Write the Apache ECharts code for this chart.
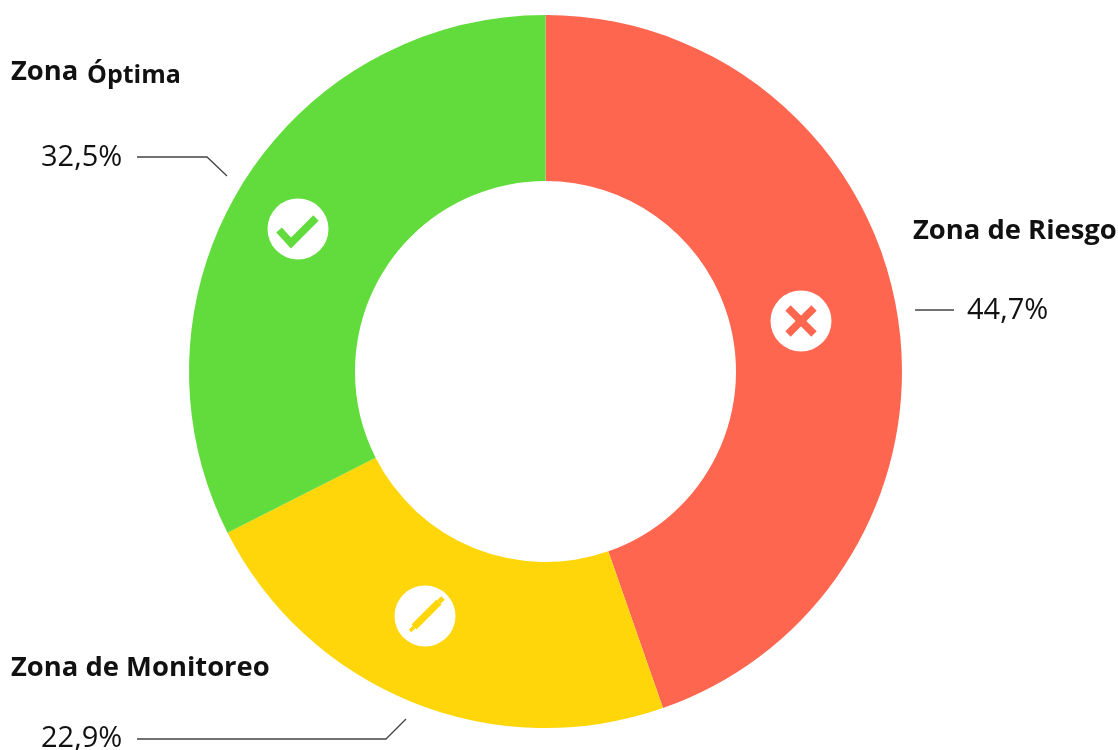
<!DOCTYPE html>
<html>
<head>
<meta charset="utf-8">
<style>html,body{margin:0;padding:0;background:#fff}#chart{width:1118px;height:750px}</style>
<script src="https://cdn.jsdelivr.net/npm/echarts@6/dist/echarts.min.js"></script>
</head>
<body>
<div id="chart"></div>
<script>
// Zones in clockwise order from twelve o'clock
const zones = ['Zona de Riesgo', 'Zona de Monitoreo', 'Zona Óptima'];
const shares = [44.7, 22.9, 32.5];
const zoneColors = ['#FF6650', '#FFD60A', '#62DC3C'];

const FONT = '"Open Sans", "Noto Sans", sans-serif';
const INK = '#111111';
const LEADER = '#444444';
const TOP = 10;

const fmt = v => v.toFixed(1).replace('.', ',') + '%';

function caption(x, y, text, size) {
  return { type: 'text', z: TOP, x, y, style: { text, fill: INK, font: `700 ${size || 27.4}px ${FONT}`, textVerticalAlign: 'middle' } };
}
function valueText(x, y, v) {
  return { type: 'text', z: TOP, x, y, style: { text: fmt(v), fill: INK, font: `400 29px ${FONT}`, textVerticalAlign: 'middle' } };
}
function leader(points) {
  return { type: 'polyline', z: TOP, shape: { points }, style: { stroke: LEADER, lineWidth: 1.3, fill: null } };
}
function badge(x, y) {
  return { type: 'circle', z: TOP, shape: { cx: x, cy: y, r: 30.5 }, style: { fill: '#fff' } };
}
function strokes(points, color, width) {
  return { type: 'polyline', z: TOP + 1, shape: { points }, style: { stroke: color, lineWidth: width, fill: null, lineJoin: 'miter' } };
}

const chart = echarts.init(document.getElementById('chart'), null, { renderer: 'canvas' });
chart.setOption({
  backgroundColor: '#fff',
  animation: false,
  series: [{
    type: 'pie',
    center: [545.5, 371.5],
    radius: [190.5, 356.5],
    startAngle: 90,
    clockwise: true,
    silent: true,
    label: { show: false },
    labelLine: { show: false },
    data: zones.map((name, i) => ({ name, value: shares[i], itemStyle: { color: zoneColors[i] } }))
  }],
  graphic: { elements: [
    caption(913, 231, zones[0]),
    valueText(967, 311, shares[0]),
    leader([[915, 310], [954, 310]]),

    caption(11, 668, zones[1]),
    valueText(41, 739, shares[1]),
    leader([[137, 739], [386, 739], [406, 719]]),

    caption(11, 72, 'Zona'),
    caption(87, 76, 'Óptima', 25),
    valueText(41, 158, shares[2]),
    leader([[137, 157], [207, 157], [227, 176]]),

    badge(801, 321),
    strokes([[788, 308], [814, 334]], zoneColors[0], 7.5),
    strokes([[814, 308], [788, 334]], zoneColors[0], 7.5),

    badge(298, 229),
    strokes([[279, 230], [291, 243], [316, 218]], zoneColors[2], 7.5),

    badge(425, 616),
    strokes([[414, 627], [439, 602]], zoneColors[1], 7),
    strokes([[410, 631], [414, 627]], zoneColors[1], 3.5),
    strokes([[439, 602], [443, 598]], zoneColors[1], 5)
  ] }
});
</script>
</body>
</html>
